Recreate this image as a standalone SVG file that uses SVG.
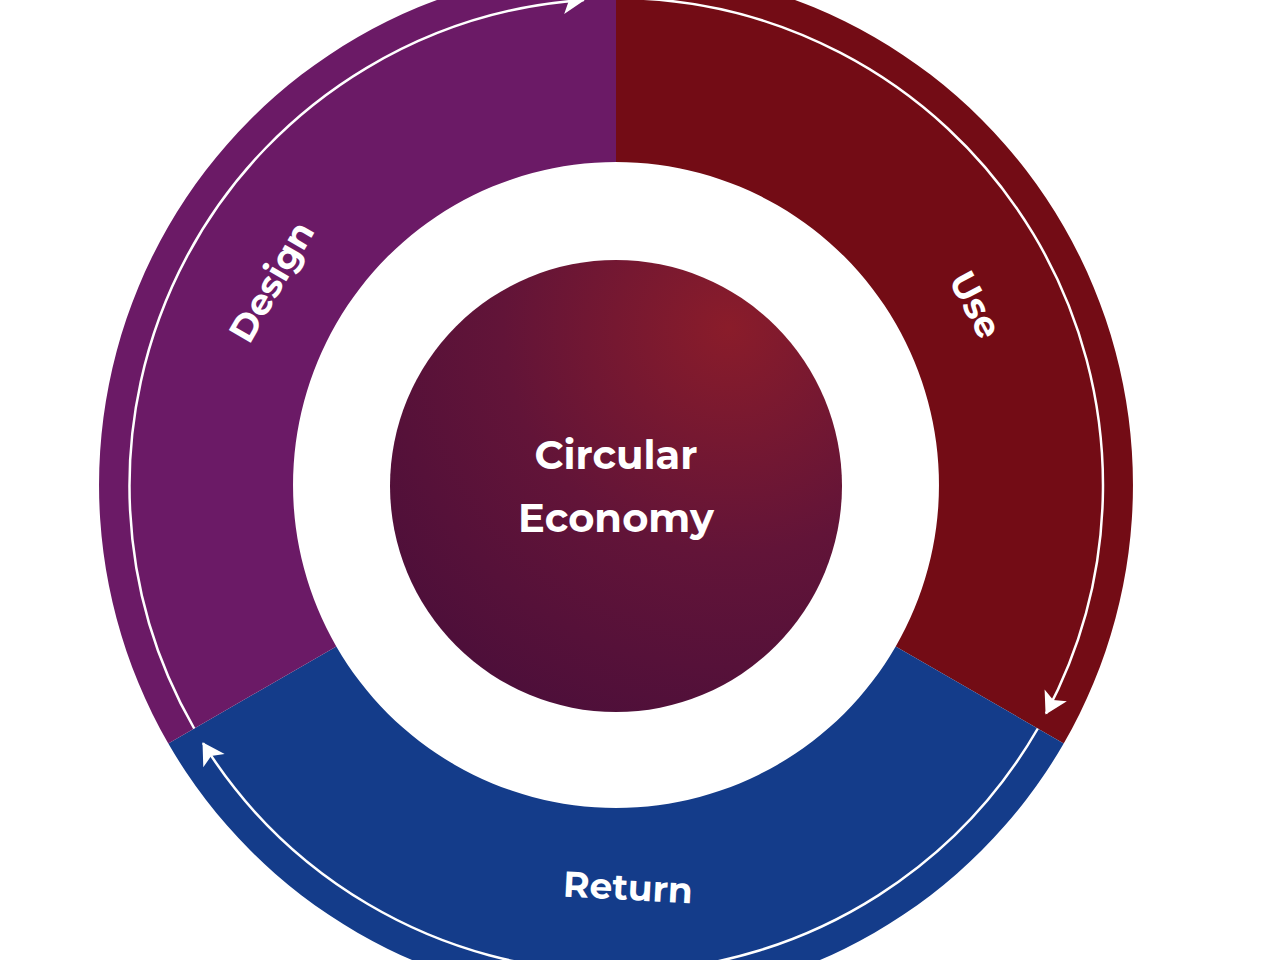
<svg xmlns="http://www.w3.org/2000/svg" width="1280" height="960" viewBox="0 0 1280 960">
<defs>
<radialGradient id="cg" cx="0.75" cy="0.15" r="1">
<stop offset="0" stop-color="#8a1c2a"/>
<stop offset="0.5" stop-color="#621438"/>
<stop offset="1" stop-color="#4a0e3a"/>
</radialGradient>
<marker id="ah" viewBox="0 0 10 10" refX="9" refY="5" markerWidth="9" markerHeight="9" markerUnits="userSpaceOnUse" orient="auto" style="overflow:visible">
<path d="M-14,-9 L10,5 L-14,19 L-8,5 Z" fill="#fff"/>
</marker>
<style>
.lbl{font-family:"Montserrat","Liberation Sans",Arial,sans-serif;font-weight:bold;fill:#fff;font-size:36px;text-anchor:middle}
.arc{fill:none;stroke:#fff;stroke-width:2.5}
</style>
</defs>
<rect width="1280" height="960" fill="#fff"/>
<g id="use"><path d="M616,-32 A517,517 0 0 1 1063.7,743.5 L895.7,646.5 A323,323 0 0 0 616,162 Z" fill="#730c15"/>
<text class="lbl" transform="translate(975,305) rotate(62)" dy="12">Use</text></g>
<g id="return"><path d="M1063.7,743.5 A517,517 0 0 1 168.3,743.5 L336.3,646.5 A323,323 0 0 0 895.7,646.5 Z" fill="#143c8a"/>
<text class="lbl" transform="translate(628,888) rotate(3)" dy="12">Return</text></g>
<g id="design"><path d="M168.3,743.5 A517,517 0 0 1 616,-32 L616,162 A323,323 0 0 0 336.3,646.5 Z" fill="#6b1a66"/>
<text class="lbl" transform="translate(272,282) rotate(-60)" dy="12">Design</text></g>
<g id="center"><circle cx="616" cy="486" r="226" fill="url(#cg)"/>
<text class="lbl" style="font-size:40px" x="616" y="469">Circular</text>
<text class="lbl" style="font-size:40px" x="616" y="532">Economy</text></g>
<g id="connectors">
<path class="arc" d="M616,-2 A487,487 0 0 1 1046,713.6" marker-end="url(#ah)"/>
<path class="arc" d="M1037.8,728.5 A487,487 0 0 1 203,743.1" marker-end="url(#ah)"/>
<path class="arc" d="M194.2,728.5 A487,487 0 0 1 584,0" marker-end="url(#ah)"/>
</g>
</svg>
